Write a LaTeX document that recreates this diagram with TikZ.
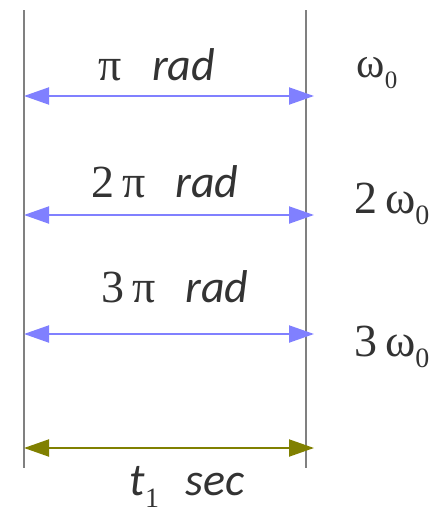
\documentclass[tikz,border=0pt]{standalone}
\usepackage{fontspec}
\setmainfont{Liberation Serif}
\newfontfamily\unitfont{Carlito}
\usepackage{xcolor}
\usetikzlibrary{arrows.meta}
\definecolor{spanblue}{HTML}{8080FF}
\definecolor{spanolive}{HTML}{808000}
\definecolor{txtgray}{HTML}{333333}
\newcommand{\unit}[1]{{\unitfont\itshape\fontsize{46}{50}\selectfont #1}}
\newcommand{\sub}[2][28]{\raisebox{-0.25em}{\fontsize{#1}{#1}\selectfont #2}}

\begin{document}
\begin{tikzpicture}[
    x=1pt,y=-1pt,
    vline/.style={draw=gray,line width=1.5pt},
    span/.style={line width=2pt,{Triangle[length=25pt,width=17pt]}-{Triangle[length=25pt,width=17pt]}},
    every node/.style={text=txtgray,inner sep=0pt,font=\fontsize{46}{50}\selectfont}
  ]
    \useasboundingbox (0,0) rectangle (430,514);
    % frame lines
    \coordinate (lt) at (24,10);
    \coordinate (lb) at (24,468);
    \coordinate (rt) at (306,10);
    \coordinate (rb) at (306,468);
    \draw[vline] (lt) -- (lb);
    \draw[vline] (rt) -- (rb);
    % arrows
    \coordinate (a1) at (24,96);   \coordinate (b1) at (314,96);
    \coordinate (a2) at (24,215);  \coordinate (b2) at (314,215);
    \coordinate (a3) at (24,334);  \coordinate (b3) at (314,334);
    \coordinate (a4) at (24,448);  \coordinate (b4) at (314,448);
    \draw[span,spanblue] (a1) -- (b1);
    \draw[span,spanblue] (a2) -- (b2);
    \draw[span,spanblue] (a3) -- (b3);
    \draw[span,spanolive] (a4) -- (b4);
    % labels
    \node (r1) at (157,65) {π\hspace{30pt}\unit{rad}};
    \node (r2) at (165,182) {2\,π\hspace{30pt}\unit{rad}};
    \node (r3) at (175,287) {3\,π\hspace{30pt}\unit{rad}};
    \node[font=\fontsize{43}{46}\selectfont] (w1) at (377,73) {ω\sub[25]{0}};
    \node (w2) at (392,204) {2\,ω\sub{0}};
    \node (w3) at (392,347) {3\,ω\sub{0}};
    \node (t1) at (187,487) {\unit{t}\sub{1}\hspace{26pt}\unit{sec}};
\end{tikzpicture}
\end{document}
